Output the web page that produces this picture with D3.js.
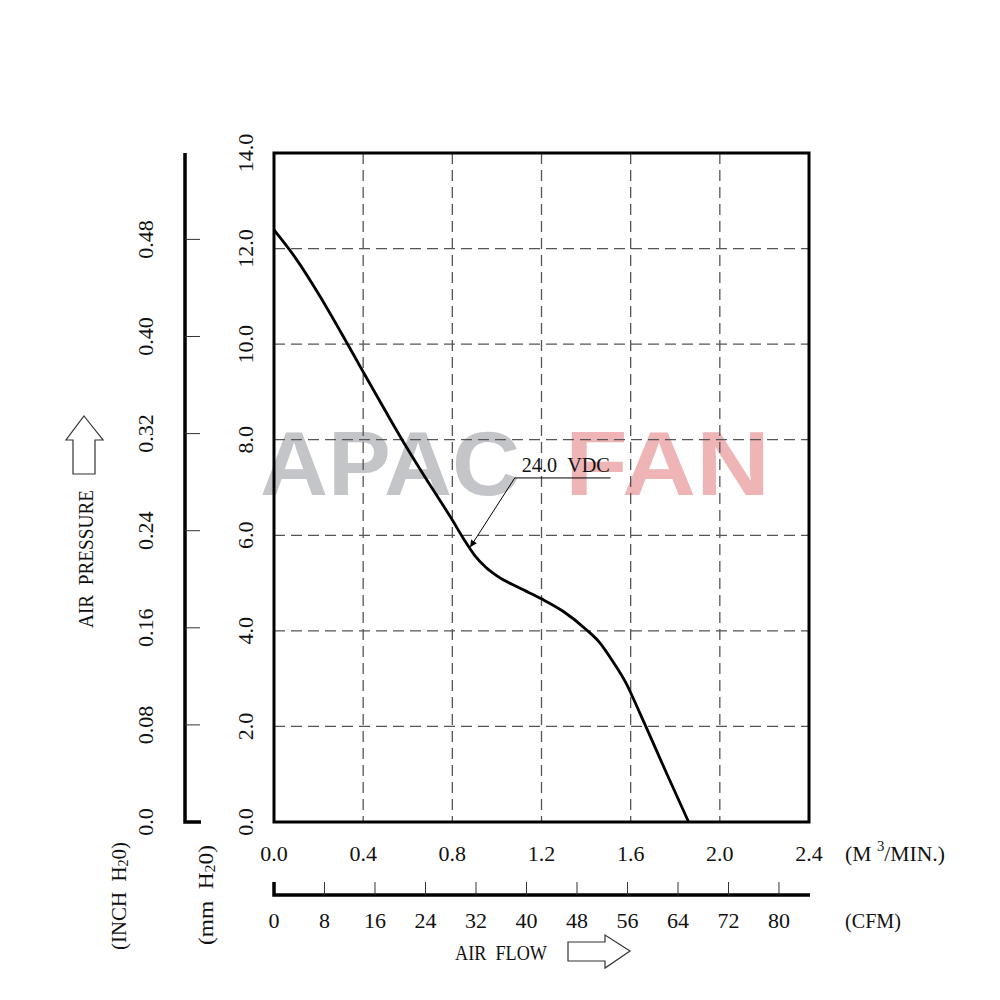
<!DOCTYPE html>
<html>
<head>
<meta charset="utf-8">
<script src="https://cdn.jsdelivr.net/npm/d3@7"></script>
<style>
  body { margin: 0; background: #fff; }
  text { font-family: "Liberation Serif", "DejaVu Serif", serif; fill: #111; }
</style>
</head>
<body>
<div id="chart"></div>
<script>
// curve: air flow (M3/MIN.) vs static pressure (mm H2O)
const flowM3 = [0, 0.10, 0.20, 0.30, 0.40, 0.50, 0.60, 0.70, 0.80, 0.85, 0.90, 0.95, 1.00, 1.10, 1.20, 1.30, 1.40, 1.46, 1.52, 1.58, 1.62, 1.67, 1.76, 1.86];
const pressureMm = [12.39, 11.78, 11.05, 10.25, 9.42, 8.60, 7.80, 7.05, 6.32, 5.93, 5.58, 5.33, 5.15, 4.90, 4.67, 4.40, 4.03, 3.76, 3.36, 2.90, 2.50, 1.98, 1.03, 0];

// axis ticks
const m3Ticks = [0, 0.4, 0.8, 1.2, 1.6, 2.0, 2.4];
const cfmTicks = [0, 8, 16, 24, 32, 40, 48, 56, 64, 72, 80];
const mmTicks = [0, 2, 4, 6, 8, 10, 12, 14];
const inchTicks = [0, 0.08, 0.16, 0.24, 0.32, 0.40, 0.48];

// annotation
const curveLabel = "24.0\u00a0\u00a0VDC";
const labelPoint = [0.88, 5.75];   // arrow tip on the curve
const labelElbow = [1.08, 7.2];
const labelEnd = [1.51, 7.2];

const M3_TO_CFM = 35.3147;
const MM_PER_INCH = 25.4;

const W = 1000, H = 1000;
const margin = { top: 153, right: 191, bottom: 178, left: 274 };
const width = W - margin.left - margin.right,
      height = H - margin.top - margin.bottom;

const svg = d3.select("#chart").append("svg")
  .attr("width", W).attr("height", H);

const g = svg.append("g")
  .attr("transform", `translate(${margin.left},${margin.top})`);

const x = d3.scaleLinear().domain([0, 2.4]).range([0, width]);
const y = d3.scaleLinear().domain([0, 14]).range([height, 0]);
const xCfm = d3.scaleLinear().domain([0, 2.4 * M3_TO_CFM]).range([0, width]);
const yInch = d3.scaleLinear().domain([0, 14 / MM_PER_INCH]).range([height, 0]);

const fs = 22;

// watermark
g.append("text").attr("x", -14).attr("y", 342)
  .attr("textLength", 260).attr("lengthAdjust", "spacingAndGlyphs")
  .attr("font-size", 90)
  .style("font-family", "Liberation Sans, Arial, sans-serif").style("font-weight", "bold")
  .style("fill", "#c3c5c8").text("APAC");
g.append("text").attr("x", 291).attr("y", 342)
  .attr("textLength", 205).attr("lengthAdjust", "spacingAndGlyphs")
  .attr("font-size", 90)
  .style("font-family", "Liberation Sans, Arial, sans-serif").style("font-weight", "bold")
  .style("fill", "#eeb4b6").text("FAN");

// dashed grid
g.append("g").selectAll("line")
  .data(m3Ticks.slice(1, -1))
  .join("line")
    .attr("x1", d => x(d)).attr("x2", d => x(d))
    .attr("y1", 0).attr("y2", height)
    .attr("stroke", "#555").attr("stroke-width", 1.3)
    .attr("stroke-dasharray", "11,6");
g.append("g").selectAll("line")
  .data(mmTicks.slice(1, -1))
  .join("line")
    .attr("x1", 0).attr("x2", width)
    .attr("y1", d => y(d)).attr("y2", d => y(d))
    .attr("stroke", "#555").attr("stroke-width", 1.3)
    .attr("stroke-dasharray", "11,6");

// frame
g.append("rect")
  .attr("width", width).attr("height", height)
  .attr("fill", "none").attr("stroke", "#000").attr("stroke-width", 3);

// curve
const line = d3.line()
  .x((d, i) => x(flowM3[i]))
  .y(d => y(d))
  .curve(d3.curveMonotoneX);
g.append("path")
  .datum(pressureMm)
  .attr("d", line)
  .attr("fill", "none").attr("stroke", "#000").attr("stroke-width", 2.8);

// annotation leader with arrowhead
svg.append("defs").append("marker")
  .attr("id", "arr").attr("viewBox", "0 0 10 10")
  .attr("refX", 10).attr("refY", 5)
  .attr("markerWidth", 14).attr("markerHeight", 7)
  .attr("markerUnits", "userSpaceOnUse")
  .attr("orient", "auto")
  .append("path").attr("d", "M0,0L10,5L0,10Z").attr("fill", "#000");
g.append("path")
  .attr("d", d3.line()([[x(labelEnd[0]), y(labelEnd[1])], [x(labelElbow[0]), y(labelElbow[1])], [x(labelPoint[0]), y(labelPoint[1])]]))
  .attr("fill", "none").attr("stroke", "#000").attr("stroke-width", 1)
  .attr("marker-end", "url(#arr)");
g.append("text")
  .attr("x", x(labelElbow[0]) + 7).attr("y", y(labelElbow[1]) - 6)
  .attr("font-size", fs)
  .attr("textLength", 88).attr("lengthAdjust", "spacingAndGlyphs")
  .text(curveLabel);

// mm H2O labels (left of frame, rotated)
g.append("g").selectAll("text")
  .data(mmTicks)
  .join("text")
    .attr("transform", d => `translate(${-29},${y(d)}) rotate(-90)`)
    .attr("text-anchor", "middle").attr("dominant-baseline", "central")
    .attr("font-size", fs)
    .text(d => d.toFixed(1));

// inch H2O axis
const inchX = -89;
const ia = g.append("g").attr("transform", `translate(${inchX},0)`);
ia.append("path")
  .attr("d", `M0,0V${height}H16`)
  .attr("fill", "none").attr("stroke", "#000").attr("stroke-width", 3.5);
ia.selectAll("line")
  .data(inchTicks.slice(1))
  .join("line")
    .attr("x1", 0).attr("x2", 15)
    .attr("y1", d => yInch(d)).attr("y2", d => yInch(d))
    .attr("stroke", "#333").attr("stroke-width", 1);
ia.selectAll("text")
  .data(inchTicks)
  .join("text")
    .attr("transform", d => `translate(${-40},${yInch(d)}) rotate(-90)`)
    .attr("text-anchor", "middle").attr("dominant-baseline", "central")
    .attr("font-size", fs)
    .text(d => d === 0 ? "0.0" : d.toFixed(2));

// M3/MIN labels
g.append("g").selectAll("text")
  .data(m3Ticks)
  .join("text")
    .attr("x", d => x(d)).attr("y", height + 31)
    .attr("text-anchor", "middle").attr("dominant-baseline", "central")
    .attr("font-size", fs)
    .text(d => d.toFixed(1));
const unitM3 = g.append("text")
  .attr("x", width + 36).attr("y", height + 31)
  .attr("dominant-baseline", "central").attr("font-size", fs)
  .attr("textLength", 100).attr("lengthAdjust", "spacingAndGlyphs");
unitM3.append("tspan").text("(M\u00a0");
unitM3.append("tspan").attr("font-size", 15).attr("dy", -7).text("3");
unitM3.append("tspan").attr("dy", 7).text("/MIN.)");

// CFM axis
const cfmY = height + 73;
const ca = g.append("g").attr("transform", `translate(0,${cfmY})`);
ca.append("path")
  .attr("d", `M0,-13V0H${width + 1}`)
  .attr("fill", "none").attr("stroke", "#000").attr("stroke-width", 3.5);
ca.selectAll("line")
  .data(cfmTicks.slice(1))
  .join("line")
    .attr("x1", d => xCfm(d)).attr("x2", d => xCfm(d))
    .attr("y1", -13).attr("y2", 0)
    .attr("stroke", "#333").attr("stroke-width", 1);
ca.selectAll("text")
  .data(cfmTicks)
  .join("text")
    .attr("x", d => xCfm(d)).attr("y", 25)
    .attr("text-anchor", "middle").attr("dominant-baseline", "central")
    .attr("font-size", fs)
    .text(d => d);
ca.append("text")
  .attr("x", width + 36).attr("y", 25)
  .attr("dominant-baseline", "central").attr("font-size", fs)
  .attr("textLength", 56).attr("lengthAdjust", "spacingAndGlyphs")
  .text("(CFM)");

// axis titles
const sub = (sel, parts) => {
  parts.forEach(p => {
    const t = sel.append("tspan").text(p.t);
    if (p.sub) t.attr("font-size", 15).attr("dy", 5);
    if (p.back) t.attr("dy", -5);
  });
};
const inchTitle = svg.append("text")
  .attr("transform", "translate(118,896) rotate(-90)")
  .attr("text-anchor", "middle").attr("dominant-baseline", "central")
  .attr("font-size", fs)
  .attr("textLength", 108).attr("lengthAdjust", "spacingAndGlyphs");
sub(inchTitle, [{ t: "(INCH\u00a0\u00a0H" }, { t: "2", sub: true }, { t: "0)", back: true }]);
const mmTitle = svg.append("text")
  .attr("transform", "translate(205,895) rotate(-90)")
  .attr("text-anchor", "middle").attr("dominant-baseline", "central")
  .attr("font-size", fs)
  .attr("textLength", 100).attr("lengthAdjust", "spacingAndGlyphs");
sub(mmTitle, [{ t: "(mm\u00a0\u00a0H" }, { t: "2", sub: true }, { t: "0)", back: true }]);

svg.append("text")
  .attr("transform", "translate(85,559) rotate(-90)")
  .attr("text-anchor", "middle").attr("dominant-baseline", "central")
  .attr("font-size", fs)
  .attr("textLength", 138).attr("lengthAdjust", "spacingAndGlyphs")
  .text("AIR\u00a0\u00a0PRESSURE");
svg.append("path")
  .attr("d", "M84,416L103,440H95V474H73V440H66Z")
  .attr("fill", "#fff").attr("stroke", "#333").attr("stroke-width", 1.2);

svg.append("text")
  .attr("x", 501).attr("y", 952)
  .attr("text-anchor", "middle").attr("dominant-baseline", "central")
  .attr("font-size", fs)
  .attr("textLength", 92).attr("lengthAdjust", "spacingAndGlyphs")
  .text("AIR\u00a0\u00a0FLOW");
svg.append("path")
  .attr("d", "M568,942H605V935L630,951L605,968V961H568Z")
  .attr("fill", "#fff").attr("stroke", "#333").attr("stroke-width", 1.2);
</script>
</body>
</html>
